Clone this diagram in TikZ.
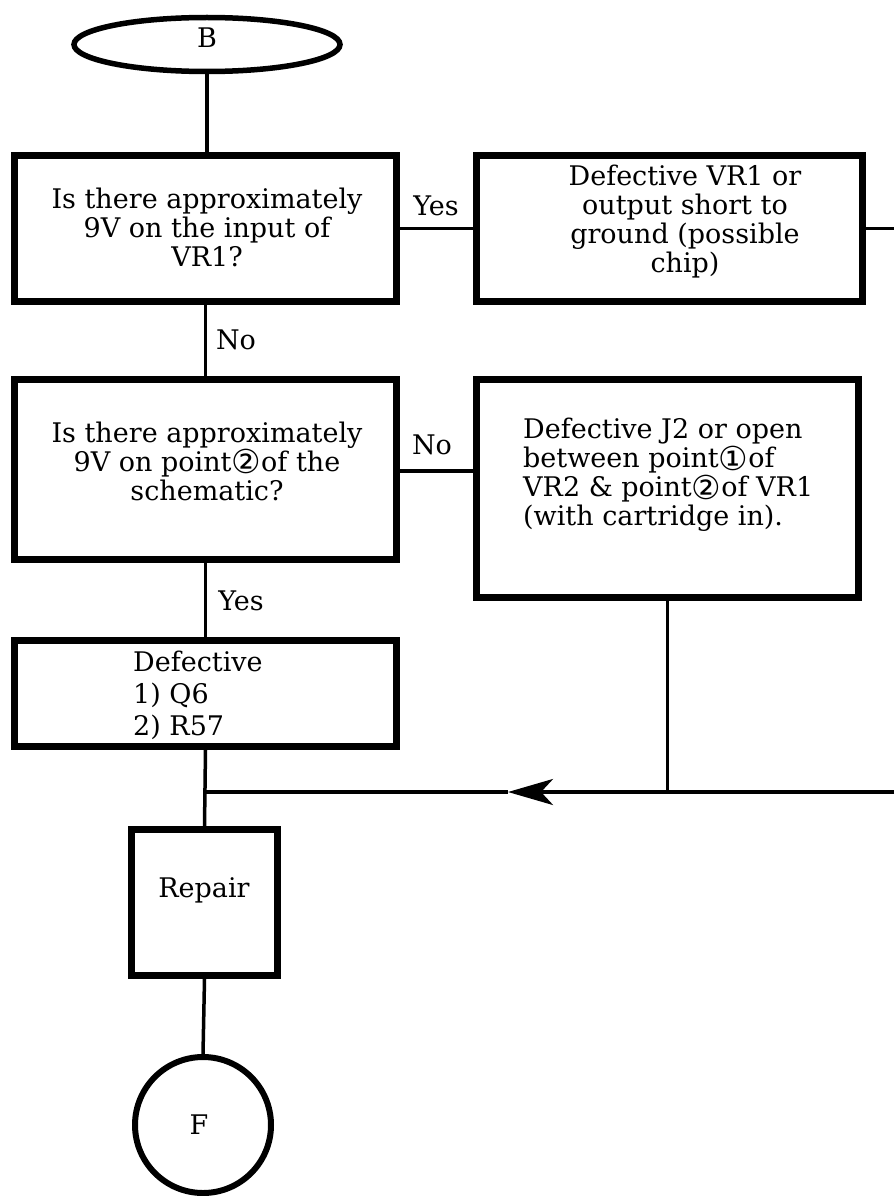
\documentclass[tikz,border=0pt]{standalone}
\usepackage{fontspec}
\setmainfont{DejaVu Serif}
\newfontfamily\symfont{DejaVu Sans}
\usetikzlibrary{shapes.geometric,arrows.meta}
\newcommand{\cnum}[1]{\raisebox{-2.5pt}{\symfont\fontsize{33}{29}\selectfont #1}}
\begin{document}
\begin{tikzpicture}[x=1pt,y=-1pt,
  box/.style={draw,line width=7pt,inner sep=0pt},
  txt/.style={font=\fontsize{27}{29}\selectfont,inner sep=0pt,align=center},
  lbl/.style={font=\fontsize{27}{29}\selectfont,inner sep=0pt},
  conn/.style={line width=3.5pt}]
\useasboundingbox (0,0) rectangle (894,1196);
% shapes
\node[draw,ellipse,line width=5.5pt,minimum width=266pt,minimum height=54pt,inner sep=0pt] (e) at (207,44.5) {};
\node[box,minimum width=382pt,minimum height=146pt] (b1) at (205.5,228.5) {};
\node[box,minimum width=386pt,minimum height=146pt] (b2) at (669.5,228.5) {};
\node[box,minimum width=382pt,minimum height=180pt] (b3) at (205.5,469.5) {};
\node[box,minimum width=382pt,minimum height=218pt] (b4) at (667.5,488.5) {};
\node[box,minimum width=382pt,minimum height=106pt] (b5) at (205.5,693.5) {};
\node[box,minimum width=146pt,minimum height=146pt] (rep) at (204.5,902.5) {};
\node[draw,circle,line width=6pt,minimum size=136pt,inner sep=0pt] (f) at (203,1125) {};
% texts
\node[lbl] (tb) at (207,38) {B};
\node[lbl] (tf) at (199,1125) {F};
\node[txt] (t1) at (207,227) {Is there approximately\\9V on the input of\\VR1?};
\node[txt] (t2) at (685,222) {Defective VR1 or\\output short to\\ground (possible\\chip)};
\node[txt] (t3) at (207,461) {Is there approximately\\9V on point\cnum{②}of the\\schematic?};
\node[txt,align=left,anchor=west] (t4) at (523,475) {Defective J2 or open\\between point\cnum{①}of\\VR2 \& point\cnum{②}of VR1\\(with cartridge in).};
\node[txt,align=left,anchor=west,font=\fontsize{27}{32}\selectfont] (t5) at (133,695) {Defective\\1) Q6\\2) R57};
\node[txt] (t6) at (204,890) {Repair};
\node[lbl] (y1) at (436,206) {Yes};
\node[lbl] (n1) at (236,340) {No};
\node[lbl] (n2) at (432,445) {No};
\node[lbl] (y2) at (241,601) {Yes};
% coordinates
\coordinate (R1) at (894,228.5);
\coordinate (ny) at (0,471);
\coordinate (J) at (205,792);
\coordinate (A) at (508,792);
\coordinate (R2) at (894,792);
% connectors
\draw[conn] (e.south) -- (e.south |- b1.north);
\draw[conn] (b1.east) -- (b2.west);
\draw[conn] (b2.east) -- (R1);
\draw[conn] (b1.south) -- (b3.north);
\draw[conn] (b3.east |- ny) -- (b4.west |- ny);
\draw[conn] (b3.south) -- (b5.north);
\draw[conn] (b5.south) -- (rep.north);
\draw[conn] (b4.south) -- (b4.south |- J);
\draw[conn,-{Stealth[length=45pt,width=26pt,inset=12pt]}] (R2) -- (A);
\draw[conn] (A) -- (J);
\draw[conn] (rep.south) -- (f.north);
\end{tikzpicture}
\end{document}
